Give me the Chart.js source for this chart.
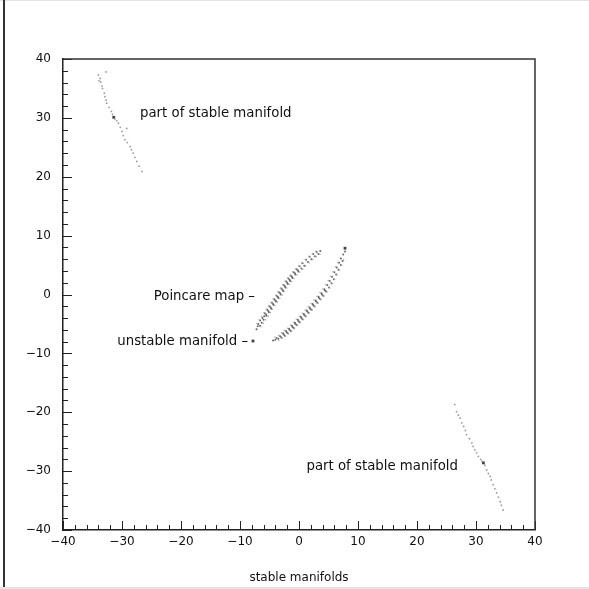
<!DOCTYPE html>
<html>
<head>
<meta charset="utf-8">
<title>stable manifolds</title>
<script src="https://cdn.jsdelivr.net/npm/chart.js@4.4.1/dist/chart.umd.min.js"></script>
<style>
  html, body { margin:0; padding:0; background:#fff; }
  #wrap { position:relative; width:589px; height:589px; overflow:hidden; }
  .edge { position:absolute; }
  .edge.top { left:0; top:0; width:589px; height:1px; background:#e4e4e4; }
  .edge.bottom { left:0; top:587px; width:589px; height:2px; background:#e4e4e4; }
  .edge.left { left:3px; top:0; width:2px; height:587px; background:#333; }
</style>
</head>
<body>
<div id="wrap">
  <canvas id="chart" width="589" height="589"></canvas>
  <div class="edge top"></div>
  <div class="edge bottom"></div>
  <div class="edge left"></div>
</div>
<script>
// axis ranges
const xMin = -40, xMax = 40;
const yMin = -40, yMax = 40;
const majorStep = 10;
const minorStep = 2;
const xTitle = 'stable manifolds';

// points: [x, y]
const upperManifold = [
  [-32.7,37.8],[-34.0,37.3],[-33.7,36.7],[-33.9,36.3],[-33.6,36.1],[-33.4,35.4],[-33.3,35.0],
  [-33.0,34.2],[-32.9,33.6],[-32.7,33.0],[-32.6,32.5],[-32.2,31.8],[-31.8,31.1],[-31.6,30.6],
  [-31.2,29.8],[-30.9,29.5],[-30.6,29.1],[-30.3,28.4],[-30.0,27.7],[-29.2,28.2],[-29.8,27.0],
  [-29.5,26.3],[-29.1,25.8],[-28.6,25.1],[-28.4,24.6],[-28.1,24.0],[-27.8,23.3],[-27.5,22.6],
  [-27.1,21.8],[-26.6,20.9]
];
const lowerManifold = [
  [26.4,-18.7],[26.7,-19.9],[27.0,-20.5],[27.3,-21.0],[27.6,-21.8],[27.9,-22.4],[28.2,-23.1],
  [28.4,-23.8],[28.9,-24.5],[29.3,-25.2],[29.5,-25.8],[29.8,-26.4],[30.1,-26.9],[30.4,-27.5],
  [30.8,-28.0],[31.0,-28.3],[31.5,-29.0],[31.8,-29.8],[32.1,-30.4],[32.4,-30.9],[32.6,-31.5],
  [32.9,-32.3],[33.2,-33.0],[33.5,-33.7],[33.8,-34.4],[34.1,-35.2],[34.3,-35.8],[34.6,-36.6]
];
// dense middle of the two Poincare map loops
const leftLobe = [
  [-7.2,-5.9],[-7.0,-5.4],[-6.9,-5.0],[-6.6,-5.3],
  [-6.6,-4.4],[-6.3,-4.8],[-6.2,-4.0],[-6.0,-4.3],[-5.9,-3.7],
  [-5.8,-3.2],[-5.5,-3.6],[-5.6,-3.4],[-5.4,-2.6],[-5.1,-3.0],[-5.2,-2.8],
  [-5.0,-2.0],[-4.7,-2.4],[-4.8,-2.2],[-4.6,-1.4],[-4.3,-1.8],[-4.4,-1.6],
  [-4.2,-0.8],[-3.9,-1.2],[-4.0,-1.0],[-3.8,-0.2],[-3.5,-0.6],[-3.6,-0.4],
  [-3.4,0.4],[-3.1,0.0],[-3.2,0.2],[-3.0,1.0],[-2.7,0.6],[-2.8,0.8],
  [-2.6,1.6],[-2.3,1.2],[-2.4,1.4],[-2.2,2.2],[-1.9,1.8],[-2.0,2.0],
  [-1.8,2.7],[-1.5,2.3],[-1.6,2.5],[-1.4,3.2],[-1.1,2.8],[-1.2,3.0],
  [-0.9,3.8],[-0.6,3.4],[-0.7,3.6],[-0.4,4.3],[-0.1,3.9],[-0.2,4.1],
  [0.1,4.8],[0.4,4.4],[0.6,5.3],[0.9,4.9],[1.2,5.9],[1.5,5.5],
  [1.8,6.4],[2.1,6.0],[2.4,6.9],[2.7,6.5],[3.0,7.2],[3.3,6.9],[3.6,7.4]
];
const rightLobe = [
  [-4.4,-7.8],[-4.0,-7.7],[-3.8,-7.4],[-3.5,-7.5],[-3.2,-7.1],[-3.0,-7.3],
  [-2.7,-6.6],[-2.4,-7.0],[-2.6,-6.8],[-2.2,-6.2],[-1.9,-6.6],[-2.1,-6.4],
  [-1.7,-5.8],[-1.4,-6.2],[-1.6,-6.0],[-1.2,-5.3],[-0.9,-5.7],[-1.1,-5.5],
  [-0.7,-4.8],[-0.4,-5.2],[-0.6,-5.0],[-0.2,-4.3],[0.1,-4.7],[-0.1,-4.5],
  [0.3,-3.8],[0.6,-4.2],[0.4,-4.0],[0.8,-3.3],[1.1,-3.7],[0.9,-3.5],
  [1.3,-2.7],[1.6,-3.1],[1.4,-2.9],[1.8,-2.2],[2.1,-2.6],[1.9,-2.4],
  [2.3,-1.6],[2.6,-2.0],[2.4,-1.8],[2.8,-1.0],[3.1,-1.4],[2.9,-1.2],
  [3.3,-0.4],[3.6,-0.8],[3.4,-0.6],[3.8,0.2],[4.1,-0.2],[3.9,0.0],
  [4.3,0.9],[4.6,0.5],[4.4,0.7],[4.8,1.6],[5.1,1.2],[5.2,2.3],[5.5,1.9],
  [5.6,3.0],[5.9,2.6],[6.0,3.8],[6.3,3.4],[6.4,4.6],[6.7,4.2],[6.8,5.4],[7.1,5.0],
  [7.1,6.1],[7.4,5.7],[7.5,6.8],[7.8,7.3]
];
// fainter outline dots around both loops
const lobeEdges = [
  [-7.15,-4.92],[-6.35,-3.72],[-5.55,-2.52],[-4.75,-1.32],[-3.95,-0.12],[-3.15,1.08],
  [-2.35,2.28],[-1.55,3.28],[-0.55,4.38],[0.45,5.38],[1.65,6.48],[2.85,7.38],
  [-6.75,-4.3],[-5.95,-3.1],[-5.15,-1.9],[-4.35,-0.7],[-3.55,0.5],[-2.75,1.7],
  [-1.95,2.8],[-1.05,3.85],[0.0,4.9],[1.05,5.95],[2.25,6.95],
  [-6.45,-5.48],[-5.65,-4.28],[-4.85,-3.08],[-4.05,-1.88],[-3.25,-0.68],[-2.45,0.52],
  [-1.65,1.72],[-0.85,2.72],[0.15,3.82],[1.15,4.82],[2.35,5.92],[3.55,6.82],
  [-6.05,-4.9],[-5.25,-3.7],[-4.45,-2.5],[-3.65,-1.3],[-2.85,-0.1],[-2.05,1.1],
  [-1.25,2.2],[-0.35,3.3],[0.65,4.3],[1.75,5.35],[2.95,6.4],
  [-4.15,-7.22],[-2.95,-6.52],[-1.95,-5.72],[-0.95,-4.72],[0.05,-3.72],[1.05,-2.62],
  [2.05,-1.52],[3.05,-0.32],[4.05,0.98],[4.95,2.38],[5.75,3.88],[6.55,5.48],
  [-3.45,-6.95],[-2.45,-6.1],[-1.45,-5.2],[-0.45,-4.2],[0.55,-3.15],[1.55,-2.05],
  [2.55,-0.9],[3.55,0.35],[4.5,1.7],[5.35,3.1],[6.15,4.7],
  [-3.45,-7.78],[-2.25,-7.08],[-1.25,-6.28],[-0.25,-5.28],[0.75,-4.28],[1.75,-3.18],
  [2.75,-2.08],[3.75,-0.88],[4.75,0.42],[5.65,1.82],[6.45,3.32],[7.25,4.92],
  [-2.85,-7.45],[-1.75,-6.7],[-0.75,-5.8],[0.25,-4.8],[1.25,-3.75],[2.25,-2.65],
  [3.25,-1.5],[4.25,-0.25],[5.2,1.1],[6.05,2.55],[6.85,4.1],[7.55,5.9]
];
const fixedPoints = [[-31.4,30.1],[31.25,-28.6],[7.8,7.86],[-7.8,-7.9]];

// annotations, anchored in data units
const noteText = ['part of stable manifold', 'Poincare map \u2013', 'unstable manifold \u2013', 'part of stable manifold'];
const noteX = [-26.95, -7.46, -8.64, 26.95];
const noteY = [30.8, -0.3, -7.95, -29.3];
const noteAlign = ['left', 'right', 'right', 'right'];

const FONT = '"DejaVu Sans", "Liberation Sans", sans-serif';

function toXY(list){
    return list.map(p => ({x: p[0], y: p[1]}));
}
function minusSign(v){
    return String(v).replace('-', '\u2212');
}

// inward tick marks, top/right frame and the text notes
const framePlugin = {
    id: 'framePlugin',
    afterDraw(chart){
        const {ctx, chartArea: a, scales: {x, y}} = chart;
        ctx.save();
        ctx.strokeStyle = '#222';
        ctx.lineWidth = 1;
        ctx.beginPath();
        for(let v = xMin; v <= xMax; v += minorStep){
            const px = Math.round(x.getPixelForValue(v)) + 0.5;
            const len = (v % majorStep === 0) ? 9 : 5;
            ctx.moveTo(px, a.bottom);
            ctx.lineTo(px, a.bottom - len);
        }
        for(let v = yMin; v <= yMax; v += minorStep){
            const py = Math.round(y.getPixelForValue(v)) + 0.5;
            const len = (v % majorStep === 0) ? 9 : 5;
            ctx.moveTo(a.left, py);
            ctx.lineTo(a.left + len, py);
        }
        ctx.stroke();

        ctx.strokeStyle = '#333';
        ctx.lineWidth = 1.5;
        ctx.beginPath();
        ctx.moveTo(a.left, a.top);
        ctx.lineTo(a.right, a.top);
        ctx.lineTo(a.right, a.bottom);
        ctx.stroke();

        ctx.fillStyle = '#111';
        ctx.font = '13.3px ' + FONT;
        ctx.textBaseline = 'middle';
        noteText.forEach((t, i) => {
            ctx.textAlign = noteAlign[i];
            ctx.fillText(t, x.getPixelForValue(noteX[i]), y.getPixelForValue(noteY[i]));
        });
        ctx.restore();
    }
};

function dots(label, list, color, r){
    return { label, data: toXY(list), pointRadius: r, pointBorderWidth: 0,
             pointBackgroundColor: color, showLine: false };
}

new Chart(document.getElementById('chart'), {
    type: 'scatter',
    data: {
        datasets: [
            dots('upper', upperManifold, '#9a9a9a', 0.9),
            dots('lower', lowerManifold, '#9a9a9a', 0.9),
            dots('edges', lobeEdges, '#b0b0b0', 0.8),
            dots('left lobe', leftLobe, '#666', 1.0),
            dots('right lobe', rightLobe, '#666', 1.0),
            { label: 'fixed', data: toXY(fixedPoints), pointStyle: 'rect', pointRadius: 2,
              pointBorderWidth: 0, pointBackgroundColor: '#444', showLine: false }
        ]
    },
    options: {
        responsive: false,
        animation: false,
        devicePixelRatio: 1,
        layout: { padding: { left: 0, top: 59, right: 54, bottom: 0 } },
        plugins: { legend: { display: false }, tooltip: { enabled: false } },
        scales: {
            x: {
                type: 'linear', min: xMin, max: xMax,
                afterFit: s => { s.height = 59; },
                grid: { drawOnChartArea: false, drawTicks: false },
                border: { display: true, color: '#222', width: 1.5 },
                ticks: { stepSize: majorStep, padding: 5, color: '#111', maxRotation: 0,
                         font: { size: 12, family: FONT }, callback: minusSign },
                title: { display: true, text: xTitle, color: '#111',
                         font: { size: 12, family: FONT }, padding: { top: 4, bottom: 4 } }
            },
            y: {
                type: 'linear', min: yMin, max: yMax,
                afterFit: s => { s.width = 63; },
                grid: { drawOnChartArea: false, drawTicks: false },
                border: { display: true, color: '#222', width: 1.5 },
                ticks: { stepSize: majorStep, padding: 12, color: '#111',
                         font: { size: 12, family: FONT }, callback: minusSign }
            }
        }
    },
    plugins: [framePlugin]
});
</script>
</body>
</html>
